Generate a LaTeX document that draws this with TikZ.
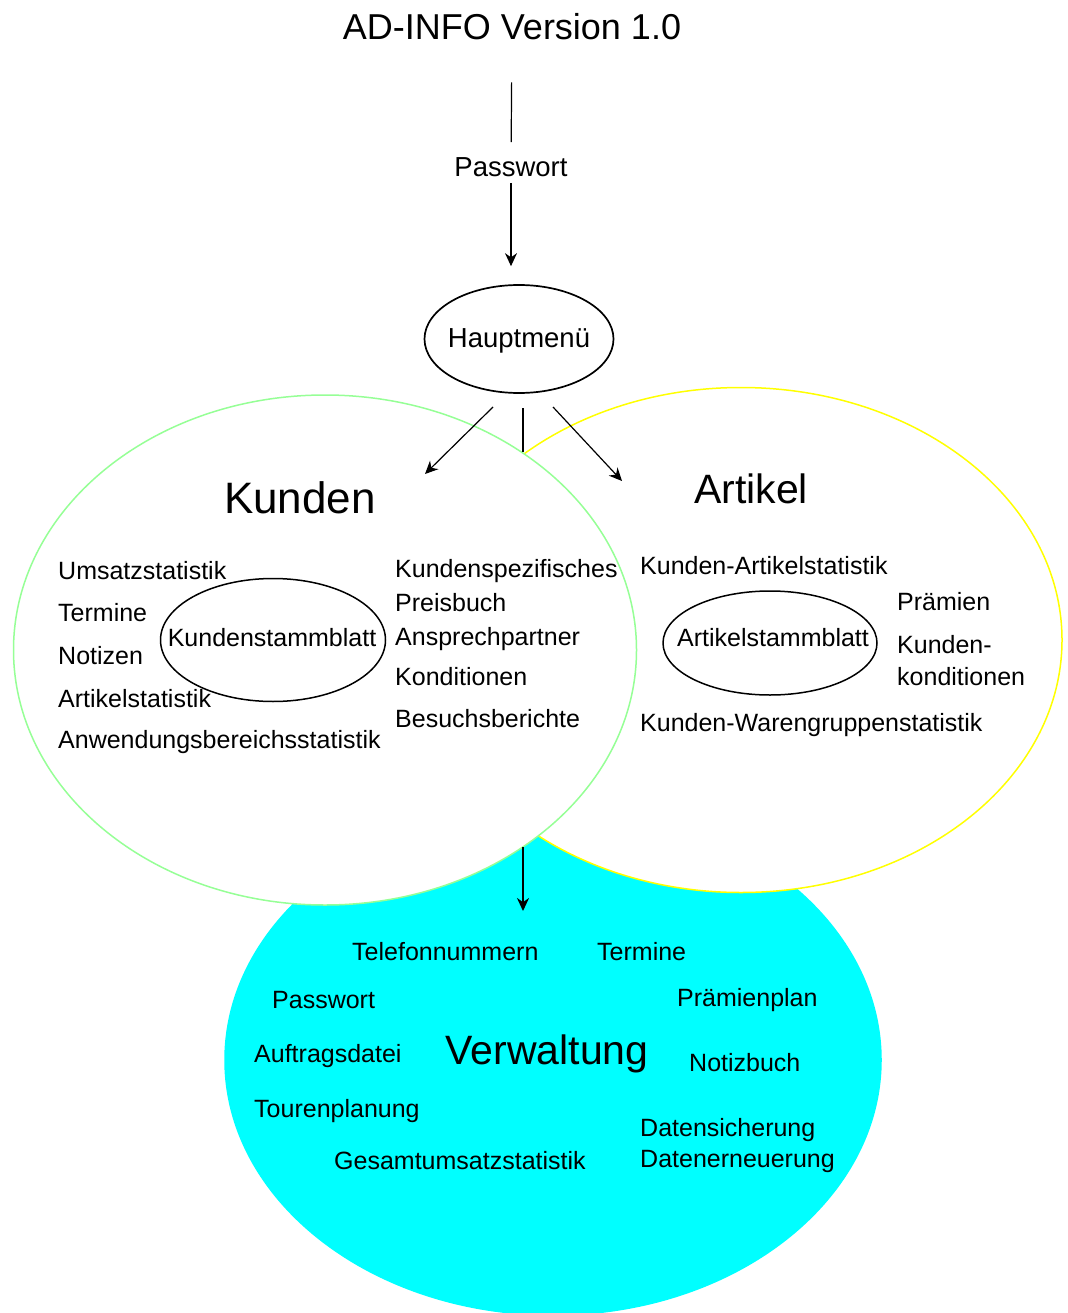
\documentclass[tikz,border=0pt]{standalone}
\usepackage{fontspec}
\setmainfont{Liberation Sans}
\usetikzlibrary{arrows.meta,shapes.geometric}

\definecolor{kgreen}{RGB}{150,255,150}
\definecolor{ayellow}{RGB}{255,255,0}
\definecolor{vcyan}{RGB}{0,255,255}

\begin{document}
\begin{tikzpicture}
        [x=1pt,y=-1pt,>={Stealth[length=13pt,width=12pt]},
        every node/.style={inner sep=0pt},
        lbl/.style={anchor=west,font=\fontsize{25}{30}\selectfont},
        big/.style={font=\fontsize{41}{48}\selectfont},
        blob/.style={ellipse,draw,line width=1.5pt,fill=white},
        ring/.style={ellipse,draw,line width=1.5pt}]
        \useasboundingbox (0,0) rectangle (1067,1313);

        % the three areas
        \node[blob,draw=vcyan,fill=vcyan,minimum width=656,minimum height=510] (verw) at (553,1060) {};
        \node[blob,draw=ayellow,minimum width=642,minimum height=505] (artikel) at (741,640) {};
        \node[blob,draw=kgreen,minimum width=623,minimum height=510] (kunden) at (325,650) {};

        \node[font=\fontsize{36}{42}\selectfont] (title) at (512,27) {AD-INFO Version 1.0};
        \node[font=\fontsize{27.5}{32}\selectfont] (pw) at (511,167) {Passwort};
        \node[ring,line width=1.7pt,minimum width=189,minimum height=108] (haupt) at (519,339) {};
        \node[font=\fontsize{27.5}{32}\selectfont] (hauptt) at (519,341) {Hauptmenü};

        \node[big,font=\fontsize{44}{50}\selectfont] (kt) at (300,498) {Kunden};
        \node[big] (at) at (751,489) {Artikel};
        \node[big] (vt) at (547,1054) {Verwaltung};

        \node[ring,minimum width=225,minimum height=123] (kstamm) at (273,640) {};
        \node[font=\fontsize{25}{30}\selectfont] (kstammt) at (272,638) {Kundenstammblatt};
        \node[ring,minimum width=214,minimum height=104] (astamm) at (770,643) {};
        \node[font=\fontsize{25}{30}\selectfont] (astammt) at (773,638) {Artikelstammblatt};

        \foreach \y/\t [count=\i] in {571/Umsatzstatistik,613/Termine,656/Notizen,
            699/Artikelstatistik,742/Anwendungsbereichsstatistik}
        \node[lbl] (kl\i) at (58,\y) {\t};

        \foreach \y/\t [count=\i] in {571/Kundenspezifisches,603/Preisbuch,639/Ansprechpartner,
            677/Konditionen,719/Besuchsberichte}
        \node[lbl] (kr\i) at (395,\y) {\t};

        \foreach \x/\y/\t [count=\i] in {640/566/Kunden-Artikelstatistik,897/602/Prämien,
            897/645/Kunden-,897/677/konditionen,640/725/Kunden-Warengruppenstatistik}
        \node[lbl] (al\i) at (\x,\y) {\t};

        \foreach \x/\y/\t [count=\i] in {352/952/Telefonnummern,597/952/Termine,
            272/1000/Passwort,677/1000/Prämienplan,254/1056/Auftragsdatei,689/1063/Notizbuch,
            254/1111/Tourenplanung,640/1130/Datensicherung,640/1161/Datenerneuerung,
            334/1161/Gesamtumsatzstatistik}
        \node[lbl] (vl\i) at (\x,\y) {\t};

        % connectors
        \coordinate (h1) at (493,407);
        \coordinate (h2) at (553,407);
        \coordinate (h3) at (523,408);
        \coordinate (kin) at (425,474);
        \coordinate (ain) at (622,481);
        \coordinate (mid) at (523,452);
        \coordinate (vout) at (523,847);
        \coordinate (vin) at (523,911);

        \draw[line width=1.2pt,shorten <=42pt,shorten >=15pt] (title) -- (pw);
        \draw[->,line width=1.2pt,shorten <=6pt,shorten >=18pt] (pw) -- (pw |- haupt.north);
        \draw[->,line width=1.2pt] (h1) -- (kin);
        \draw[->,line width=1.2pt] (h2) -- (ain);
        \draw[line width=2.6pt] (h3) -- (mid);
        \draw[->,line width=2.6pt] (vout) -- (vin);
      \end{tikzpicture}
\end{document}
